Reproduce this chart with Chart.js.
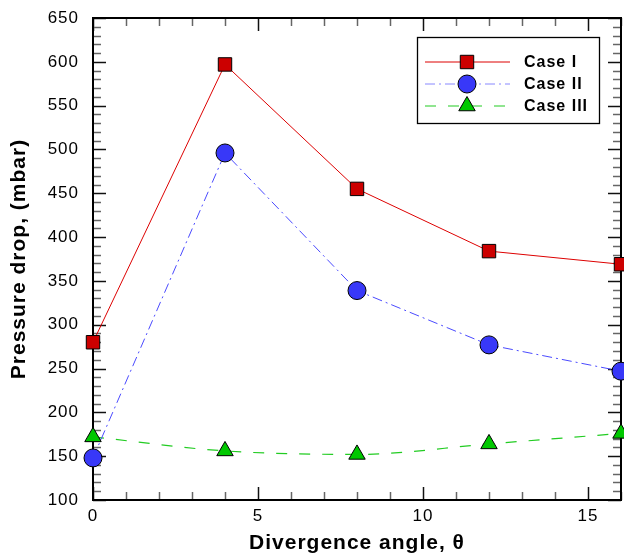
<!DOCTYPE html>
<html><head><meta charset="utf-8">
<script src="https://cdn.jsdelivr.net/npm/chart.js@4.4.0/dist/chart.umd.min.js"></script>
<style>html,body{margin:0;padding:0;background:#fff}#wrap{width:624px;height:556px}</style>
</head><body><div id="wrap"><canvas id="c" width="624" height="556"></canvas></div>
<script>
const angles = [0, 4, 8, 12, 16];
const caseI = [280, 597, 455, 384, 369];
const caseII = [148, 496, 339, 277, 247];
const caseIII = [172, 156, 152, 164, 176];
const seriesNames = ['Case I', 'Case II', 'Case III'];
const xTicks = [0, 5, 10, 15];
const yTicks = [100, 150, 200, 250, 300, 350, 400, 450, 500, 550, 600, 650];

const pts = (ys) => angles.map((x, i) => ({x, y: ys[i]}));
const FONT = '"Liberation Sans", Arial, Helvetica, sans-serif';

const frameTicks = {
  id: 'frameTicks',
  beforeInit(chart) { chart.ctx.letterSpacing = '1px'; },
  beforeUpdate(chart) { chart.ctx.letterSpacing = '1px'; },
  beforeDatasetsDraw(chart) {
    const {ctx, chartArea: a, scales: {x, y}} = chart;
    ctx.save();
    ctx.lineWidth = 1.5;
    for (let v = 0; v <= 16; v += 1) {
      const px = Math.round(x.getPixelForValue(v)) + 0.5;
      const major = v % 5 === 0;
      const len = major ? 13 : 8;
      ctx.strokeStyle = major ? '#111' : '#666';
      ctx.beginPath(); ctx.moveTo(px, a.bottom); ctx.lineTo(px, a.bottom - len); ctx.stroke();
      ctx.beginPath(); ctx.moveTo(px, a.top); ctx.lineTo(px, a.top + len); ctx.stroke();
    }
    for (let v = 100; v <= 650; v += 10) {
      const py = Math.round(y.getPixelForValue(v)) + 0.5;
      const major = v % 50 === 0;
      const len = major ? 13 : 8;
      ctx.strokeStyle = major ? '#111' : '#666';
      ctx.beginPath(); ctx.moveTo(a.left, py); ctx.lineTo(a.left + len, py); ctx.stroke();
      ctx.beginPath(); ctx.moveTo(a.right, py); ctx.lineTo(a.right - len, py); ctx.stroke();
    }
    ctx.strokeStyle = '#000';
    ctx.lineWidth = 2;
    ctx.strokeRect(a.left, a.top, a.right - a.left, a.bottom - a.top);
    ctx.restore();
  },
  afterDatasetsDraw(chart) {
    const {ctx} = chart;
    const bx = 417.5, by = 37.5, bw = 182, bh = 86;
    ctx.save();
    ctx.fillStyle = '#fff';
    ctx.fillRect(bx, by, bw, bh);
    ctx.strokeStyle = '#000';
    ctx.lineWidth = 1.3;
    ctx.strokeRect(bx, by, bw, bh);
    const rows = [62, 84, 106];
    chart.data.datasets.forEach((ds, i) => {
      const yy = rows[i];
      ctx.save();
      ctx.strokeStyle = ds.legendLine || ds.borderColor;
      ctx.lineWidth = ds.borderWidth;
      ctx.setLineDash(ds.borderDash || []);
      ctx.beginPath(); ctx.moveTo(425, yy); ctx.lineTo(510, yy); ctx.stroke();
      ctx.restore();
      ctx.save();
      ctx.fillStyle = ds.pointBackgroundColor;
      ctx.strokeStyle = '#000';
      ctx.lineWidth = 1;
      Chart.helpers.drawPoint(ctx, {pointStyle: ds.pointStyle, radius: ds.pointRadius, borderWidth: 1, rotation: 0}, 467, yy);
      ctx.restore();
      ctx.fillStyle = '#000';
      ctx.font = 'bold 16px ' + FONT;
      ctx.textBaseline = 'middle';
      ctx.textAlign = 'left';
      ctx.fillText(seriesNames[i], 524, yy + 1);
    });
    ctx.restore();
  }
};

new Chart(document.getElementById('c'), {
  type: 'line',
  data: {
    datasets: [
      {label: seriesNames[0], data: pts(caseI), borderColor: '#dd0000', borderWidth: 1, backgroundColor: '#cc0000',
       pointStyle: 'rect', pointRadius: 9.5, pointBackgroundColor: '#cc0000', pointBorderColor: '#000', pointBorderWidth: 1, tension: 0},
      {label: seriesNames[1], data: pts(caseII), borderColor: '#4a4aff', legendLine: '#8888ff', borderWidth: 1, borderDash: [10, 4, 2, 4], backgroundColor: '#3333ff',
       pointStyle: 'circle', pointRadius: 9, pointBackgroundColor: '#3838f8', pointBorderColor: '#000', pointBorderWidth: 1, tension: 0},
      {label: seriesNames[2], data: pts(caseIII), borderColor: '#22cc22', borderWidth: 1.2, borderDash: [11, 12], backgroundColor: '#00cc00',
       pointStyle: 'triangle', pointRadius: 9.5, pointBackgroundColor: '#00c800', pointBorderColor: '#000', pointBorderWidth: 1,
       cubicInterpolationMode: 'monotone'}
    ]
  },
  options: {
    responsive: false,
    animation: false,
    layout: {autoPadding: false, padding: {left: 0, top: 18, right: 3, bottom: 0}},
    plugins: {legend: {display: false}, tooltip: {enabled: false}},
    datasets: {line: {clip: false}},
    scales: {
      x: {
        type: 'linear', min: 0, max: 16,
        afterBuildTicks: (s) => { s.ticks = xTicks.map(v => ({value: v})); },
        afterFit: (s) => { s.height = 56; s.paddingLeft = 0; s.paddingRight = 0; },
        grid: {display: false, drawTicks: false},
        border: {display: false},
        ticks: {color: '#000', padding: 6, maxRotation: 0, font: {family: FONT, size: 17}},
        title: {display: true, text: 'Divergence angle, θ', color: '#000', padding: {top: 0, bottom: 0},
                font: {family: FONT, size: 21, weight: 'bold'}}
      },
      y: {
        type: 'linear', min: 100, max: 650,
        afterBuildTicks: (s) => { s.ticks = yTicks.map(v => ({value: v})); },
        afterFit: (s) => { s.width = 93; s.paddingTop = 0; s.paddingBottom = 0; },
        grid: {display: false, drawTicks: false},
        border: {display: false},
        ticks: {color: '#000', padding: 14, font: {family: FONT, size: 17}},
        title: {display: true, text: 'Pressure drop, (mbar)', color: '#000', padding: {top: 7, bottom: 0},
                font: {family: FONT, size: 21, weight: 'bold'}}
      }
    }
  },
  plugins: [frameTicks]
});
</script></body></html>
